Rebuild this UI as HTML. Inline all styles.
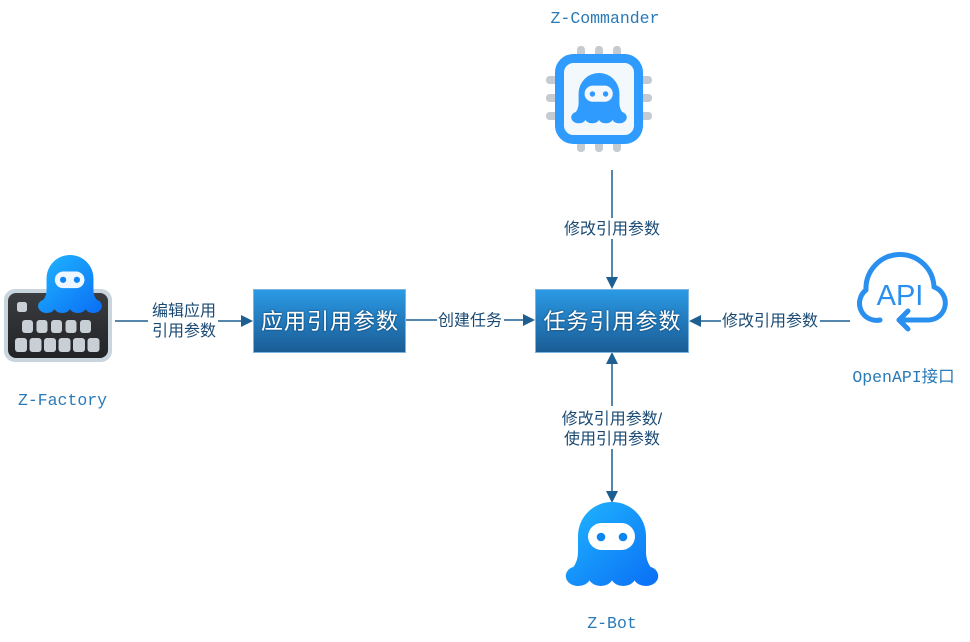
<!DOCTYPE html>
<html><head><meta charset="utf-8"><style>
html,body{margin:0;padding:0;background:#fff;}
svg{display:block;}
.lbl{font-family:"Liberation Sans","Noto Sans CJK SC",sans-serif;font-size:16px;fill:#1a4a74;}
.name{font-family:"Liberation Mono","Noto Sans CJK SC",monospace;font-size:16.5px;fill:#2a7ab8;}
.box{font-family:"Liberation Sans","Noto Sans CJK SC",sans-serif;font-size:22px;font-weight:normal;fill:#fff;letter-spacing:1px;}
</style></head><body>
<svg width="970" height="642" viewBox="0 0 970 642" xmlns="http://www.w3.org/2000/svg">
<defs>
  <linearGradient id="boxg" x1="0" y1="0" x2="0" y2="1">
    <stop offset="0" stop-color="#2a9ae5"/>
    <stop offset="1" stop-color="#1b5c94"/>
  </linearGradient>
  <linearGradient id="octg" x1="0" y1="0" x2="1" y2="1">
    <stop offset="0" stop-color="#20b8ff"/>
    <stop offset="1" stop-color="#0a6cf5"/>
  </linearGradient>
  <linearGradient id="kbg" x1="0" y1="0" x2="0" y2="1">
    <stop offset="0" stop-color="#3a3c40"/>
    <stop offset="1" stop-color="#222326"/>
  </linearGradient>
  <clipPath id="octo">
    <path d="M -34 60 V 34 A 34 34 0 0 1 34 34 V 60 Z"/>
    <rect x="-34" y="55" width="68" height="21"/>
    <path d="M -34 50 Q -34 64 -46 72 L -30 76 Z"/>
    <path d="M 34 50 Q 34 64 46 72 L 30 76 Z"/>
    <ellipse cx="-33.75" cy="74" rx="12.5" ry="10"/>
    <ellipse cx="-11.25" cy="74" rx="12.5" ry="10"/>
    <ellipse cx="11.25" cy="74" rx="12.5" ry="10"/>
    <ellipse cx="33.75" cy="74" rx="12.5" ry="10"/>
  </clipPath>
  <filter id="ts" x="-10%" y="-30%" width="120%" height="160%">
    <feDropShadow dx="0" dy="0" stdDeviation="1.1" flood-color="#0b2f55" flood-opacity="0.95"/>
  </filter>
</defs>

<!-- connectors -->
<g stroke="#1e5f91" stroke-width="1.5" fill="none">
  <line x1="612" y1="170" x2="612" y2="280"/>
  <line x1="115" y1="321" x2="244" y2="321"/>
  <line x1="406" y1="320" x2="526" y2="320"/>
  <line x1="850" y1="321" x2="698" y2="321"/>
  <line x1="612" y1="362" x2="612" y2="494"/>
</g>
<g fill="#1e5f91">
  <polygon points="612,289 606,277 618,277"/>
  <polygon points="253,321 241,315 241,327"/>
  <polygon points="535,320 523,314 523,326"/>
  <polygon points="689,321 701,315 701,327"/>
  <polygon points="612,352 606,364 618,364"/>
  <polygon points="612,503 606,491 618,491"/>
</g>

<!-- label backgrounds -->
<g fill="#fff">
  <rect x="561" y="218" width="102" height="21"/>
  <rect x="148" y="300" width="70" height="41"/>
  <rect x="437" y="309" width="67" height="21"/>
  <rect x="721" y="310" width="99" height="21"/>
  <rect x="556" y="406" width="112" height="43"/>
</g>
<text class="lbl" x="612" y="234" text-anchor="middle">修改引用参数</text>
<text class="lbl" x="184" y="316" text-anchor="middle">编辑应用</text>
<text class="lbl" x="184" y="336" text-anchor="middle">引用参数</text>
<text class="lbl" x="470" y="325.5" text-anchor="middle">创建任务</text>
<text class="lbl" x="770" y="326" text-anchor="middle">修改引用参数</text>
<text class="lbl" x="612" y="424" text-anchor="middle">修改引用参数/</text>
<text class="lbl" x="612" y="444" text-anchor="middle">使用引用参数</text>

<!-- boxes -->
<rect x="253.5" y="289.5" width="152" height="63" fill="url(#boxg)" stroke="#7fb4de" stroke-width="1"/>
<rect x="535.5" y="289.5" width="153" height="63" fill="url(#boxg)" stroke="#7fb4de" stroke-width="1"/>
<text class="box" x="330" y="329" text-anchor="middle" filter="url(#ts)">应用引用参数</text>
<text class="box" x="612.5" y="329" text-anchor="middle" filter="url(#ts)">任务引用参数</text>

<!-- Z-Commander chip -->
<g fill="#c6cbd1">
  <rect x="577" y="46" width="8" height="12" rx="3.5"/>
  <rect x="595" y="46" width="8" height="12" rx="3.5"/>
  <rect x="613" y="46" width="8" height="12" rx="3.5"/>
  <rect x="577" y="140" width="8" height="12" rx="3.5"/>
  <rect x="595" y="140" width="8" height="12" rx="3.5"/>
  <rect x="613" y="140" width="8" height="12" rx="3.5"/>
  <rect x="546" y="76" width="12" height="8" rx="3.5"/>
  <rect x="546" y="94" width="12" height="8" rx="3.5"/>
  <rect x="546" y="112" width="12" height="8" rx="3.5"/>
  <rect x="640" y="76" width="12" height="8" rx="3.5"/>
  <rect x="640" y="94" width="12" height="8" rx="3.5"/>
  <rect x="640" y="112" width="12" height="8" rx="3.5"/>
</g>
<rect x="559.5" y="58.5" width="79" height="81" rx="14" fill="#f3f8fc" stroke="#2f9bff" stroke-width="9"/>
<g transform="translate(599,73) scale(0.6)">
  <rect x="-48" y="0" width="96" height="86" fill="#2f9bff" clip-path="url(#octo)"/>
  <rect x="-24" y="21" width="47" height="27" rx="13.5" fill="#f3f8fc"/>
  <circle cx="-11" cy="35" r="4.5" fill="#2f9bff"/>
  <circle cx="11" cy="35" r="4.5" fill="#2f9bff"/>
</g>
<text class="name" x="605" y="23" text-anchor="middle">Z-Commander</text>

<!-- Z-Factory keyboard -->
<rect x="4" y="289" width="108" height="73" rx="11" fill="#c9d5dd"/>
<rect x="8" y="293" width="100" height="65" rx="8" fill="url(#kbg)"/>
<g fill="#c9d0d5">
  <rect x="17" y="302" width="10" height="10" rx="2.5"/>
  <rect x="22" y="320" width="11" height="13" rx="3"/>
  <rect x="36.5" y="320" width="11" height="13" rx="3"/>
  <rect x="51" y="320" width="11" height="13" rx="3"/>
  <rect x="65.5" y="320" width="11" height="13" rx="3"/>
  <rect x="80" y="320" width="11" height="13" rx="3"/>
  <rect x="15" y="338" width="12" height="14" rx="3"/>
  <rect x="29.5" y="338" width="12" height="14" rx="3"/>
  <rect x="44" y="338" width="12" height="14" rx="3"/>
  <rect x="58.5" y="338" width="12" height="14" rx="3"/>
  <rect x="73" y="338" width="12" height="14" rx="3"/>
  <rect x="87.5" y="338" width="12" height="14" rx="3"/>
</g>
<g transform="translate(70,255) scale(0.69)">
  <rect x="-48" y="0" width="96" height="86" fill="url(#octg)" clip-path="url(#octo)"/>
  <rect x="-22" y="24" width="43" height="24" rx="12" fill="#eef6ff"/>
  <circle cx="-10" cy="36" r="4.5" fill="#0f86f5"/>
  <circle cx="10" cy="36" r="4.5" fill="#0f86f5"/>
</g>
<text class="name" x="62.5" y="405" text-anchor="middle">Z-Factory</text>

<!-- OpenAPI cloud -->
<g fill="none" stroke="#2a90f0" stroke-width="5" stroke-linecap="round" stroke-linejoin="round">
  <path d="M 880 320 A 17 17 0 0 1 866 290 A 34 34 0 0 1 934 287 A 17 17 0 0 1 929 320 H 899"/>
  <path d="M 908 311 L 899 320 L 908 329"/>
</g>
<text x="900" y="305" text-anchor="middle" font-family="Liberation Sans, sans-serif" font-size="29" fill="#2a90f0">API</text>
<text class="name" x="903.5" y="382" text-anchor="middle">OpenAPI接口</text>

<!-- Z-Bot -->
<g transform="translate(612,502)">
  <rect x="-48" y="0" width="96" height="86" fill="url(#octg)" clip-path="url(#octo)"/>
  <rect x="-24" y="21" width="47" height="27" rx="13.5" fill="#fff"/>
  <circle cx="-11" cy="35" r="4.3" fill="#0d86f2"/>
  <circle cx="11" cy="35" r="4.3" fill="#0d86f2"/>
</g>
<text class="name" x="612" y="628" text-anchor="middle">Z-Bot</text>
</svg>
</body></html>
